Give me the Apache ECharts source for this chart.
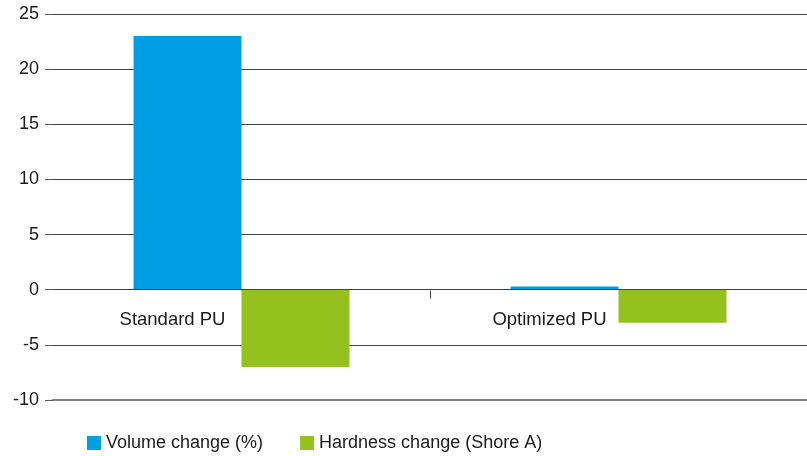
<!DOCTYPE html>
<html>
<head>
<meta charset="utf-8">
<script src="https://cdn.jsdelivr.net/npm/echarts@6/dist/echarts.min.js"></script>
<style>
html,body{margin:0;padding:0;background:#fff;}
#chart{width:807px;height:456px;}
</style>
</head>
<body>
<div id="chart"></div>
<script>
const categories = ['Standard PU', 'Optimized PU'];
const volumeChange = [23, 0.3];
const hardnessChange = [-7, -3];
const seriesNames = ['Volume change (%)', 'Hardness change (Shore A)'];

const chart = echarts.init(document.getElementById('chart'));
const font = 'Liberation Sans, Arial, sans-serif';
chart.setOption({
  animation: false,
  grid: { left: 53, right: -2, top: 14, bottom: 56, containLabel: false },
  legend: {
    left: 82, top: 429,
    itemWidth: 14, itemHeight: 14, itemGap: 37,
    icon: 'rect',
    textStyle: { fontFamily: font, fontSize: 18, color: '#1a1a1a' },
    data: seriesNames
  },
  xAxis: [
    {
      type: 'category',
      data: categories,
      position: 'bottom',
      axisLine: { onZero: true, lineStyle: { color: '#404040', width: 1 } },
      axisTick: { show: false },
      axisLabel: {
        margin: -90,
        fontFamily: font, fontSize: 18.5, color: '#1a1a1a',
        padding: [0, 138, 0, 0]
      },
      z: 5
    },
    {
      type: 'category',
      data: categories,
      position: 'bottom',
      axisLine: { onZero: false, lineStyle: { color: '#808080', width: 2 } },
      axisTick: { show: false },
      axisLabel: { show: false }
    }
  ],
  yAxis: {
    type: 'value',
    min: -10, max: 25, interval: 5,
    axisLine: { show: false },
    axisTick: { show: true, length: 8, lineStyle: { color: '#555' } },
    axisLabel: { margin: 14, fontFamily: font, fontSize: 18, color: '#1a1a1a' },
    splitLine: {
      lineStyle: {
        color: ['#808080', '#444', '#444', '#444', '#444', '#444', '#444', '#444'],
        width: 1
      }
    }
  },
  series: [
    {
      name: seriesNames[0], type: 'bar', data: volumeChange,
      barWidth: 108, barGap: '0%',
      itemStyle: { color: '#009FE3' }
    },
    {
      name: seriesNames[1], type: 'bar', data: hardnessChange,
      barWidth: 108, barGap: '0%',
      itemStyle: { color: '#95C11F' }
    }
  ]
});

// category boundary tick between the two categories, placed from the library's scales
const c0 = chart.convertToPixel({ xAxisIndex: 0 }, 0);
const c1 = chart.convertToPixel({ xAxisIndex: 0 }, 1);
const midX = Math.round((c0 + c1) / 2) + 0.5;
const zeroY = Math.round(chart.convertToPixel({ yAxisIndex: 0 }, 0)) + 0.5;
chart.setOption({
  graphic: [{
    type: 'line',
    shape: { x1: midX, y1: zeroY, x2: midX, y2: zeroY + 8 },
    style: { stroke: '#404040', lineWidth: 1 },
    z: 10
  }]
});
</script>
</body>
</html>
